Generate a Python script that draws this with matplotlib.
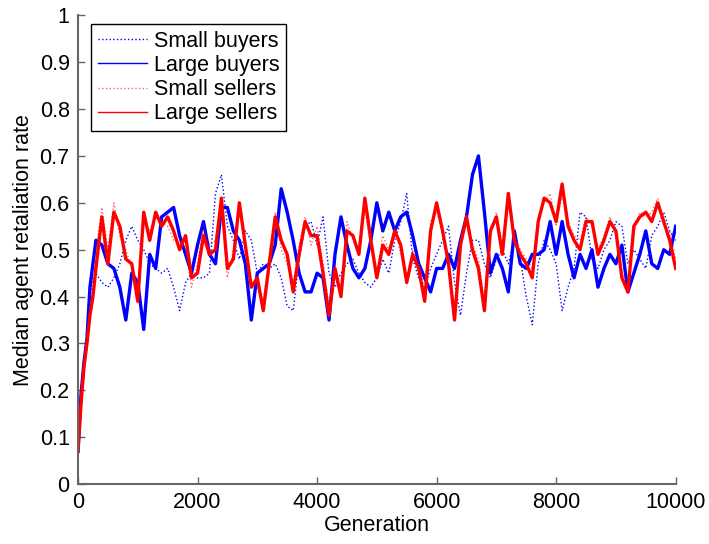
import numpy as np
import matplotlib
matplotlib.use('Agg')
import matplotlib.pyplot as plt

plt.rcParams['font.family'] = ['Liberation Sans', 'DejaVu Sans']

# generation grid: finer at the start where the rates climb quickly
generation = [0, 50, 100, 150, 200, 250] + list(range(300, 10001, 100))

small_buyers = [
    0.07, 0.18, 0.26, 0.31, 0.40, 0.44,
    0.45, 0.43, 0.42, 0.44, 0.47, 0.52, 0.55, 0.52, 0.50, 0.47, 0.46, 0.45, 0.46, 0.42, 0.37, 0.43, 0.45, 0.44,
    0.44, 0.45, 0.62, 0.66, 0.55, 0.52, 0.48, 0.54, 0.52, 0.45, 0.47, 0.46, 0.47, 0.44, 0.38, 0.37, 0.48, 0.55, 0.56, 0.51,
    0.57, 0.45, 0.42, 0.45, 0.47, 0.48, 0.45, 0.43, 0.42, 0.44, 0.48, 0.45, 0.52, 0.56, 0.62, 0.48, 0.44, 0.42, 0.46, 0.49,
    0.52, 0.55, 0.43, 0.36, 0.45, 0.52, 0.52, 0.47, 0.44, 0.48, 0.50, 0.47, 0.52, 0.48, 0.40, 0.34, 0.47, 0.52, 0.50, 0.47,
    0.37, 0.42, 0.46, 0.58, 0.57, 0.48, 0.46, 0.50, 0.52, 0.56, 0.55, 0.47, 0.50, 0.48, 0.46, 0.53, 0.55, 0.58, 0.54, 0.52,
]

large_buyers = [
    0.07, 0.19, 0.26, 0.31, 0.42, 0.47,
    0.52, 0.51, 0.47, 0.46, 0.42, 0.35, 0.45, 0.43, 0.33, 0.49, 0.46, 0.57, 0.58, 0.59, 0.53, 0.49, 0.45, 0.51,
    0.56, 0.49, 0.47, 0.59, 0.59, 0.54, 0.52, 0.47, 0.35, 0.45, 0.46, 0.47, 0.51, 0.63, 0.58, 0.52, 0.45, 0.41, 0.41, 0.45,
    0.44, 0.35, 0.49, 0.57, 0.51, 0.46, 0.44, 0.46, 0.52, 0.60, 0.54, 0.58, 0.54, 0.57, 0.58, 0.53, 0.47, 0.44, 0.41, 0.46,
    0.46, 0.49, 0.46, 0.52, 0.57, 0.66, 0.70, 0.58, 0.45, 0.49, 0.46, 0.41, 0.54, 0.47, 0.46, 0.49, 0.49, 0.50, 0.56, 0.49,
    0.56, 0.49, 0.44, 0.49, 0.46, 0.50, 0.42, 0.46, 0.49, 0.47, 0.51, 0.41, 0.45, 0.49, 0.54, 0.47, 0.46, 0.50, 0.49, 0.55,
]

small_sellers = [
    0.07, 0.18, 0.25, 0.31, 0.37, 0.42,
    0.50, 0.59, 0.50, 0.60, 0.53, 0.50, 0.46, 0.42, 0.56, 0.54, 0.57, 0.56, 0.55, 0.52, 0.52, 0.50, 0.42, 0.47,
    0.55, 0.51, 0.52, 0.59, 0.44, 0.50, 0.59, 0.49, 0.43, 0.42, 0.39, 0.49, 0.58, 0.50, 0.47, 0.43, 0.51, 0.57, 0.51, 0.55,
    0.47, 0.38, 0.44, 0.42, 0.56, 0.52, 0.50, 0.59, 0.50, 0.45, 0.53, 0.50, 0.55, 0.49, 0.44, 0.50, 0.48, 0.41, 0.56, 0.58,
    0.55, 0.46, 0.37, 0.50, 0.58, 0.51, 0.48, 0.39, 0.53, 0.58, 0.51, 0.60, 0.53, 0.50, 0.48, 0.46, 0.57, 0.60, 0.62, 0.55,
    0.62, 0.56, 0.53, 0.52, 0.57, 0.55, 0.50, 0.53, 0.57, 0.53, 0.45, 0.43, 0.54, 0.58, 0.57, 0.58, 0.61, 0.55, 0.54, 0.48,
]

large_sellers = [
    0.07, 0.17, 0.25, 0.30, 0.36, 0.40,
    0.46, 0.57, 0.47, 0.58, 0.55, 0.48, 0.47, 0.39, 0.58, 0.52, 0.58, 0.55, 0.57, 0.54, 0.50, 0.53, 0.44, 0.45,
    0.53, 0.49, 0.50, 0.61, 0.46, 0.48, 0.60, 0.51, 0.42, 0.44, 0.37, 0.47, 0.57, 0.52, 0.49, 0.41, 0.49, 0.56, 0.53, 0.53,
    0.45, 0.36, 0.46, 0.40, 0.54, 0.53, 0.49, 0.61, 0.52, 0.44, 0.51, 0.49, 0.54, 0.51, 0.43, 0.49, 0.46, 0.39, 0.54, 0.60,
    0.54, 0.47, 0.35, 0.51, 0.57, 0.50, 0.46, 0.37, 0.54, 0.57, 0.49, 0.62, 0.52, 0.49, 0.47, 0.44, 0.56, 0.61, 0.60, 0.56,
    0.64, 0.55, 0.52, 0.50, 0.56, 0.56, 0.49, 0.52, 0.56, 0.54, 0.44, 0.41, 0.55, 0.57, 0.58, 0.56, 0.60, 0.56, 0.52, 0.46,
]

x_ticks = [0, 2000, 4000, 6000, 8000, 10000]
y_ticks = [0, 0.1, 0.2, 0.3, 0.4, 0.5, 0.6, 0.7, 0.8, 0.9, 1]
y_ticklabels = ['0', '0.1', '0.2', '0.3', '0.4', '0.5', '0.6', '0.7', '0.8', '0.9', '1']

fig = plt.figure(figsize=(7.09, 5.44), dpi=100)
ax = fig.add_axes([0.110, 0.110, 0.843, 0.862])

ax.plot(generation, small_buyers, color='#0000ff', linestyle=':', linewidth=1.0, label='Small buyers')
ax.plot(generation, large_buyers, color='#0000ff', linestyle='-', linewidth=2.4, label='Large buyers')
ax.plot(generation, small_sellers, color='#ff0000', linestyle=':', linewidth=1.0, alpha=0.6, label='Small sellers')
ax.plot(generation, large_sellers, color='#ff0000', linestyle='-', linewidth=2.4, label='Large sellers')

ax.set_xlim(0, 10000)
ax.set_ylim(0, 1)
ax.set_xticks(x_ticks)
ax.set_xticklabels([str(t) for t in x_ticks])
ax.set_yticks(y_ticks)
ax.set_yticklabels(y_ticklabels)

ax.spines['top'].set_visible(False)
ax.spines['right'].set_visible(False)
for side in ('left', 'bottom'):
    ax.spines[side].set_color('#666666')
    ax.spines[side].set_linewidth(1.5)
ax.tick_params(direction='in', length=5, width=1, colors='#666666', labelcolor='black',
               labelsize=15.5, pad=6)

ax.set_xlabel('Generation', fontsize=15.5, labelpad=1)
ax.set_ylabel('Median agent retaliation rate', fontsize=15.5, labelpad=4)

leg = ax.legend(loc='upper left', bbox_to_anchor=(0.022, 0.981), borderaxespad=0,
                fontsize=15.5, handlelength=2.3, handletextpad=0.3, labelspacing=0.15,
                borderpad=0.3, fancybox=False, framealpha=1)
leg.get_frame().set_edgecolor('black')
leg.get_frame().set_linewidth(1.0)
for handle in leg.get_lines():
    handle.set_linewidth(1.0)

fig.savefig('out.png', dpi=100)
